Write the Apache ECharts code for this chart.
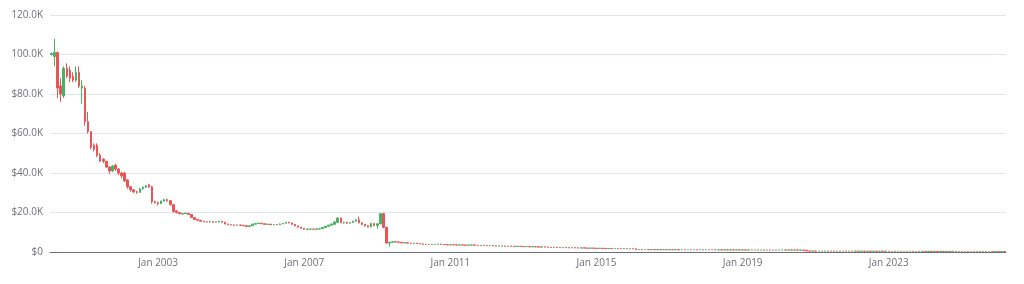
<!DOCTYPE html>
<html>
<head>
<meta charset="utf-8">
<script src="https://cdn.jsdelivr.net/npm/echarts@6/dist/echarts.min.js"></script>
<style>
html,body{margin:0;padding:0;background:#fff;}
#chart{width:1024px;height:284px;}
</style>
</head>
<body>
<div id="chart"></div>
<script>
// Monthly candles, values in thousands of dollars: [open, close, low, high]
const startYear = 2000;
const startMonth = 1; // February (0-based)
const monthNames = ['Jan','Feb','Mar','Apr','May','Jun','Jul','Aug','Sep','Oct','Nov','Dec'];
const yTickLabels = ['$0','$20.0K','$40.0K','$60.0K','$80.0K','100.0K','120.0K'];
const upColor = '#47b262';
const downColor = '#eb5454';

const ohlcK = [
  // 2000-2002
  [100,100.5,99.5,101],[99,101,94,108],[101,83,78,101.5],[84,80,76,88],[79,93,78,94],
  [93,89,88,95.5],[92,88,86,94],[89,87,86,91],[87,91,86,94],[91,84,83,94],
  [83,84,75,87],[83,66,64,84],[66,61,60,71],[61,53,52,61],[54,52,51,55],
  [54,49,48,55],[49,46,45.5,50],[47,46,45,47.5],[46,43,42.5,46],[43,41,39.5,43.5],
  [41,43.5,40.5,44],[44,42,41,44.5],[42,40,39,42.5],[40,38.5,37.5,40.5],[40,36,35.5,40.5],
  [36.5,33,32,37],[33,31.5,30.5,33.5],[31.5,30.5,29.8,31.8],[30.5,30.2,29.5,31],[30.2,32,30,32.5],
  [32,32.8,31.5,33.2],[32.8,33.5,32.5,34],[34,33,32.5,34.5],[33,25.5,24.5,33.5],
  // 34-44
  [25.5,25,24.5,26],[25,24.5,23.5,25.5],[24.5,25.8,24.3,26],[25.8,26.5,25.5,27],[26.5,26,25.5,27],
  [26,24,23.5,26.3],[24,20.5,20,24.2],[20.8,20,19.5,21],[20,19.5,19,20.3],[19.2,19.5,19,19.7],
  [19.5,19.7,19.3,19.9],
  // 45-83
  [19.6,19,18.8,19.8],[19,17.5,17.2,19.2],[17.5,16.5,16.2,17.6],[16.5,16.1,15.8,16.7],[16.1,15.6,15.3,16.2],
  [15.6,15.3,15.1,15.7],[15.3,15.2,15,15.5],[15.2,15.4,15,15.6],[15.4,15.1,14.9,15.5],[15.1,15.2,14.9,15.4],
  [15.2,15.6,15.1,15.8],[15.6,15.1,14.9,15.7],[15.1,14.2,14,15.2],[14.2,13.8,13.6,14.3],[13.8,13.7,13.5,13.9],
  [13.7,13.6,13.4,13.8],[13.6,13.7,13.4,13.9],[13.7,13.5,13.3,13.8],[13.5,13.3,13.1,13.6],[13.3,12.9,12.7,13.4],
  [12.9,13.3,12.8,13.4],[13.3,14.1,13.2,14.3],[14.1,14.4,14,14.6],[14.4,14.6,14.3,14.8],[14.6,14.3,14.1,14.7],
  [14.3,14,13.8,14.4],[14,14.1,13.8,14.3],[14.1,13.8,13.6,14.2],[13.8,13.9,13.6,14.1],[13.9,13.8,13.6,14],
  [13.8,14.2,13.7,14.4],[14.2,14.5,14.1,14.7],[14.5,15,14.4,15.2],[15,14.7,14.5,15.3],[14.7,14,13.8,14.8],
  [14,13.2,13,14.1],[13.2,12.6,12.4,13.3],[12.6,12,11.8,12.7],[12,11.5,11.3,12.1],
  // 84-111
  [11.5,11.6,11.3,11.8],[11.6,11.6,11.4,11.8],[11.6,11.5,11.3,11.7],[11.5,11.7,11.4,11.8],[11.7,11.8,11.5,12],
  [11.8,12.4,11.7,12.5],[12.4,13,12.3,13.2],[13,13.6,12.9,13.8],[13.6,14.2,13.4,14.4],[14,15.2,13.9,15.5],
  [15,17.2,14.8,17.6],[17.2,14.8,14.5,17.5],[14.8,15,14.3,15.3],[15,14.6,14.3,15.3],[14.6,15,14.4,15.2],
  [15,15.6,14.8,15.8],[15.6,16.3,15.4,16.5],[16.3,14.8,14.5,17.9],[14.8,14,13.6,15],[14,13.3,13,14.2],
  [13.3,12.7,12.5,13.5],[12.7,14.4,12.5,14.9],[14.4,13.4,13,14.5],[13.4,14.3,11.8,14.5],[14.3,19.4,14,19.6],
  [19.4,12.5,12,19.8],[12.5,4.5,4.3,12.8],[4.5,4.9,2.8,5.2],
  // 112-192
  [4.9,5.2,4.8,5.4],[5.2,5.1,4.9,5.3],[5.1,4.9,4.8,5.2],[4.9,4.6,4.5,5.0],[4.6,4.7,4.5,4.8],
  [4.7,4.5,4.4,4.8],[4.5,4.4,4.3,4.6],[4.4,4.5,4.3,4.6],[4.5,4.3,4.2,4.6],[4.3,4.1,4.0,4.4],
  [4.1,3.9,3.8,4.2],[3.9,3.8,3.7,4.0],[3.8,3.9,3.7,4.0],[3.9,3.8,3.7,4.0],[3.8,3.9,3.7,4.0],
  [3.9,4.0,3.8,4.1],[4.0,3.8,3.7,4.1],[3.8,3.7,3.6,3.9],[3.7,3.6,3.5,3.8],[3.6,3.7,3.5,3.8],
  [3.7,3.6,3.5,3.8],[3.6,3.5,3.4,3.7],[3.5,3.6,3.4,3.7],[3.6,3.5,3.4,3.7],[3.5,3.4,3.3,3.6],
  [3.4,3.5,3.3,3.6],[3.5,3.6,3.4,3.7],[3.6,3.4,3.3,3.7],[3.4,3.3,3.2,3.5],[3.3,3.4,3.2,3.5],
  [3.4,3.3,3.2,3.5],[3.3,3.2,3.1,3.4],[3.2,3.3,3.1,3.4],[3.3,3.1,3.0,3.4],[3.1,3.0,2.9,3.2],
  [3.0,3.1,2.9,3.2],[3.1,3.0,2.9,3.2],[3.0,2.9,2.8,3.1],[2.9,3.0,2.8,3.1],[3.0,2.9,2.8,3.1],
  [2.9,2.8,2.7,3.0],[2.8,2.9,2.7,3.0],[2.9,2.8,2.7,3.0],[2.8,2.7,2.6,2.9],[2.7,2.8,2.6,2.9],
  [2.8,2.6,2.5,2.9],[2.6,2.7,2.5,2.8],[2.7,2.6,2.5,2.8],[2.6,2.5,2.4,2.7],[2.5,2.6,2.4,2.7],
  [2.6,2.5,2.4,2.7],[2.5,2.4,2.3,2.6],[2.4,2.3,2.2,2.5],[2.3,2.4,2.2,2.5],[2.4,2.3,2.2,2.5],
  [2.3,2.2,2.1,2.4],[2.2,2.3,2.1,2.4],[2.3,2.2,2.1,2.4],[2.2,2.1,2.0,2.3],[2.1,2.2,2.0,2.3],
  [2.2,2.1,2.0,2.3],[2.1,2.0,1.9,2.2],[2.0,2.1,1.9,2.2],[2.1,2.0,1.9,2.2],[2.0,1.9,1.8,2.1],
  [1.9,2.0,1.8,2.1],[2.0,1.9,1.8,2.1],[1.9,1.8,1.7,2.0],[1.8,1.9,1.7,2.0],[1.9,1.8,1.7,2.0],
  [1.8,1.7,1.6,1.9],[1.7,1.8,1.6,1.9],[1.8,1.7,1.6,1.9],[1.7,1.8,1.6,1.9],[1.8,1.7,1.6,1.9],
  [1.7,1.6,1.5,1.8],[1.6,1.7,1.5,1.8],[1.7,1.6,1.5,1.8],[1.6,1.7,1.5,1.8],[1.7,1.6,1.5,1.8],
  [1.6,1.2,1.1,1.7],
  // 193-248
  [1.2,1.25,1.15,1.3],[1.25,1.2,1.15,1.3],[1.2,1.22,1.15,1.28],[1.22,1.18,1.12,1.26],[1.18,1.21,1.14,1.25],
  [1.21,1.17,1.12,1.24],[1.17,1.2,1.13,1.23],[1.2,1.16,1.1,1.22],[1.16,1.19,1.12,1.22],[1.19,1.15,1.1,1.21],
  [1.15,1.18,1.11,1.2],[1.18,1.14,1.1,1.2],[1.14,1.16,1.1,1.19],[1.16,1.12,1.08,1.18],[1.12,1.15,1.09,1.17],
  [1.15,1.11,1.07,1.16],[1.11,1.14,1.08,1.16],[1.14,1.1,1.06,1.15],[1.1,1.13,1.07,1.15],[1.13,1.09,1.05,1.14],
  [1.09,1.12,1.06,1.14],[1.12,1.08,1.04,1.13],[1.08,1.11,1.05,1.13],[1.11,1.07,1.03,1.12],[1.07,1.1,1.04,1.12],
  [1.1,1.06,1.02,1.11],[1.06,1.09,1.03,1.11],[1.09,1.05,1.01,1.1],[1.05,1.08,1.02,1.1],[1.08,1.04,1.0,1.09],
  [1.04,1.07,1.01,1.09],[1.07,1.03,0.99,1.08],[1.03,1.06,1.0,1.08],[1.06,1.02,0.98,1.07],[1.02,1.05,0.99,1.07],
  [1.05,1.01,0.97,1.06],[1.01,1.04,0.98,1.06],[1.04,1.0,0.96,1.05],[1.0,1.03,0.97,1.05],[1.03,0.99,0.95,1.04],
  [0.99,1.02,0.96,1.04],[1.02,0.98,0.94,1.03],[0.98,1.01,0.95,1.03],[1.01,0.97,0.93,1.02],[0.97,1.0,0.94,1.02],
  [1.0,0.96,0.92,1.01],[0.96,0.99,0.93,1.01],[0.99,1.05,0.95,1.1],[1.05,1.0,0.96,1.08],[1.0,1.04,0.97,1.07],
  [1.04,0.98,0.94,1.06],[0.98,1.02,0.95,1.05],[1.02,0.96,0.92,1.04],[0.96,0.98,0.9,1.01],[0.98,0.9,0.86,1.0],
  [0.9,0.5,0.45,0.92],
  // 249-313
  [0.50,0.47,0.44,0.52],[0.47,0.49,0.45,0.52],[0.49,0.46,0.43,0.51],[0.46,0.48,0.44,0.50],[0.48,0.45,0.42,0.50],
  [0.45,0.47,0.43,0.49],[0.47,0.44,0.41,0.49],[0.44,0.46,0.42,0.48],[0.46,0.43,0.40,0.48],[0.43,0.45,0.41,0.47],
  [0.45,0.42,0.39,0.47],[0.42,0.44,0.40,0.46],[0.44,0.41,0.38,0.46],[0.41,0.43,0.39,0.45],[0.43,0.40,0.37,0.45],
  [0.40,0.42,0.38,0.44],[0.42,0.39,0.36,0.44],[0.39,0.41,0.37,0.43],[0.41,0.38,0.35,0.43],[0.38,0.40,0.36,0.42],
  [0.40,0.37,0.34,0.42],[0.37,0.39,0.35,0.41],[0.39,0.36,0.33,0.41],[0.36,0.38,0.34,0.40],[0.38,0.35,0.33,0.40],
  [0.35,0.37,0.33,0.39],[0.37,0.34,0.32,0.39],[0.34,0.36,0.32,0.38],[0.36,0.34,0.31,0.38],[0.34,0.36,0.32,0.38],
  [0.36,0.33,0.31,0.37],[0.33,0.35,0.31,0.37],[0.35,0.33,0.30,0.37],[0.33,0.35,0.31,0.36],[0.35,0.32,0.30,0.36],
  [0.32,0.34,0.30,0.36],[0.34,0.32,0.29,0.35],[0.32,0.34,0.30,0.35],[0.34,0.31,0.29,0.35],[0.31,0.33,0.29,0.34],
  [0.33,0.31,0.28,0.34],[0.31,0.33,0.29,0.34],[0.33,0.30,0.28,0.34],[0.30,0.32,0.28,0.33],[0.32,0.30,0.27,0.33],
  [0.30,0.32,0.28,0.33],[0.32,0.29,0.27,0.33],[0.29,0.31,0.27,0.32],[0.31,0.29,0.26,0.32],[0.29,0.30,0.27,0.31],
  [0.30,0.28,0.26,0.31],[0.28,0.30,0.26,0.31],[0.30,0.28,0.25,0.31],[0.28,0.29,0.26,0.30],[0.29,0.27,0.25,0.30],
  [0.27,0.29,0.25,0.30],[0.29,0.27,0.24,0.30],[0.27,0.28,0.25,0.29],[0.28,0.26,0.24,0.29],[0.26,0.28,0.24,0.29],
  [0.28,0.26,0.23,0.29],[0.26,0.27,0.24,0.28],[0.27,0.25,0.23,0.28],[0.25,0.26,0.23,0.27],[0.26,0.25,0.23,0.27]
];

// Month categories starting Feb 2000
const categories = [];
for (let i = 0; i < ohlcK.length; i++) {
  const m = (startMonth + i) % 12;
  const y = startYear + Math.floor((startMonth + i) / 12);
  categories.push(monthNames[m] + ' ' + y);
}

function showLabel(index, value) {
  const parts = value.split(' ');
  return parts[0] === 'Jan' && (parseInt(parts[1], 10) - 2003) % 4 === 0;
}

const chart = echarts.init(document.getElementById('chart'), null, {renderer: 'canvas'});
chart.setOption({
  animation: false,
  textStyle: {fontFamily: 'Open Sans'},
  grid: {left: 50, right: 18, top: 15, bottom: 32},
  xAxis: {
    type: 'category',
    data: categories,
    boundaryGap: true,
    axisLine: {lineStyle: {color: '#6E7079'}},
    axisTick: {alignWithLabel: true, interval: showLabel, length: 4},
    axisLabel: {interval: showLabel, color: '#6E7079', fontSize: 10, margin: 6, fontFamily: 'Open Sans'},
    splitLine: {show: false}
  },
  yAxis: {
    type: 'value',
    min: 0,
    max: 120,
    interval: 20,
    axisLine: {show: false},
    axisTick: {show: false},
    axisLabel: {
      color: '#6E7079', fontSize: 10, margin: 7, fontFamily: 'Open Sans',
      formatter: function (v) { return yTickLabels[Math.round(v / 20)]; }
    },
    splitLine: {lineStyle: {color: '#E0E6F1'}}
  },
  series: [{
    type: 'candlestick',
    data: ohlcK,
    barWidth: '65%',
    itemStyle: {
      color: upColor,
      color0: downColor,
      borderColor: upColor,
      borderColor0: downColor,
      borderWidth: 1
    }
  }]
});
</script>
</body>
</html>
